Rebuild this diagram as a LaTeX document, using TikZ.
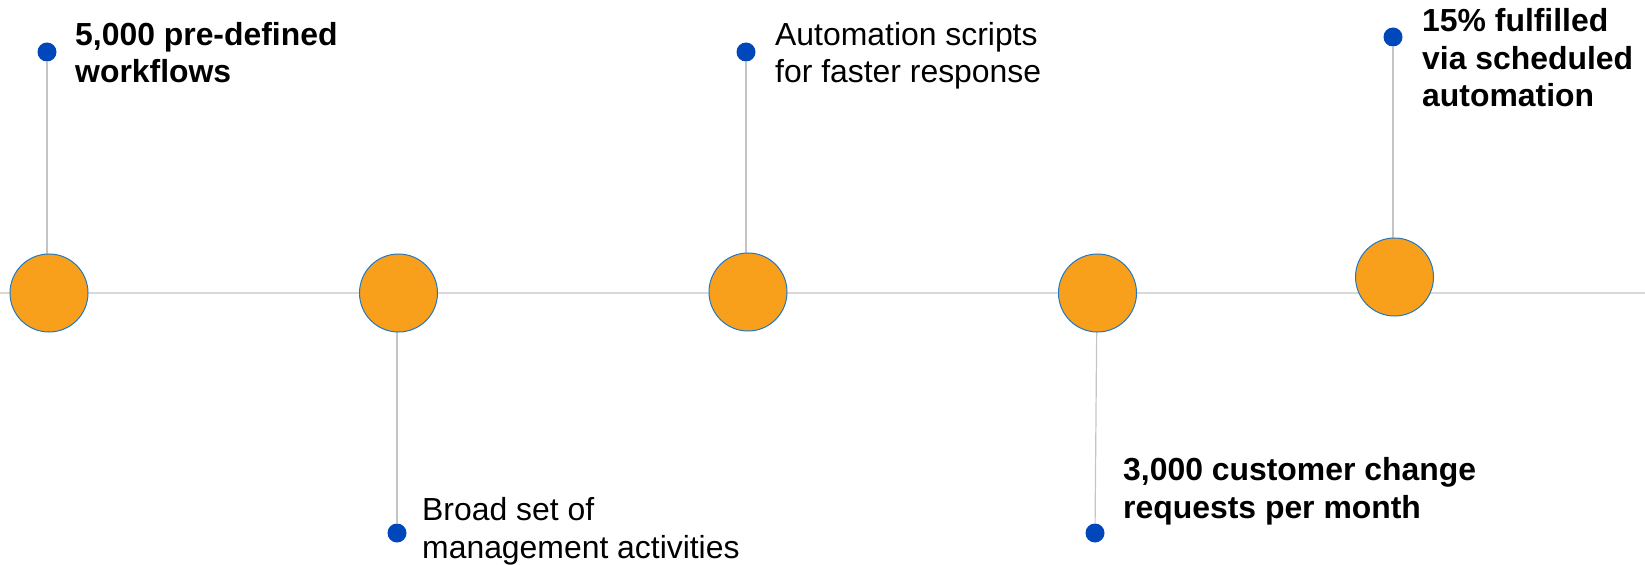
\documentclass[tikz,border=0pt]{standalone}
\usepackage{fontspec}
\setmainfont{Liberation Sans}
\usetikzlibrary{positioning}
\definecolor{milestoneorange}{RGB}{248,160,28}
\definecolor{milestoneedge}{RGB}{30,120,200}
\definecolor{pinblue}{RGB}{0,71,187}
\definecolor{axisgray}{RGB}{217,217,217}
\definecolor{stemgray}{RGB}{196,196,196}

\begin{document}
\begin{tikzpicture}[
    x=1bp, y=-1bp,
    milestone/.style={circle, fill=milestoneorange, draw=milestoneedge,
                      line width=1bp, minimum size=78bp, inner sep=0pt},
    pin/.style={circle, fill=pinblue, minimum size=19bp, inner sep=0pt},
    stem/.style={draw=stemgray, line width=1.2bp},
    axis/.style={draw=axisgray, line width=2bp},
    note/.style={anchor=base west, align=left, inner sep=0pt,
                 font=\fontsize{31.9bp}{37.5bp}\selectfont},
    keynote/.style={note, font=\fontsize{31.9bp}{37.5bp}\selectfont\bfseries},
]
\useasboundingbox (0,0) rectangle (1645,565);

% ── Timeline axis ──────────────────────────────────────────────────────
\coordinate (axisL) at (0,293);
\coordinate (axisR) at (1645,293);
\draw[axis] (axisL) -- (axisR);

% ── Pins ───────────────────────────────────────────────────────────────
\node[pin] (pin1) at (47,52)   {};
\node[pin] (pin2) at (397,533) {};
\node[pin] (pin3) at (746,52)  {};
\node[pin] (pin4) at (1095,533){};
\node[pin] (pin5) at (1393,37) {};

% ── Stems (drawn before the milestones so they sit behind) ─────────────
\coordinate (top1) at (47,293);
\coordinate (top2) at (397,293);
\coordinate (top3) at (746,293);
\coordinate (top4) at (1097,293);
\coordinate (top5) at (1393,277);
\foreach \i in {1,...,5}
  \draw[stem] (pin\i) -- (top\i);

% ── Milestones ─────────────────────────────────────────────────────────
\node[milestone] (ms1) at (49,293)    {};
\node[milestone] (ms2) at (398.5,293) {};
\node[milestone] (ms3) at (748,292)   {};
\node[milestone] (ms4) at (1097.5,293){};
\node[milestone] (ms5) at (1394.5,277){};

% ── Notes (anchored on the baseline of their last line) ────────────────
\node[keynote] (txt1) at (75,83)
      {5,000 pre-defined\\workflows};
\node[note]    (txt2) at (422,558)
      {Broad set of\\management activities};
\node[note]    (txt3) at (775,83)
      {Automation scripts\\for faster response};
\node[keynote] (txt4) at (1123,518)
      {3,000 customer change\\requests per month};
\node[keynote] (txt5) at (1422,107)
      {15\% fulfilled\\via scheduled\\automation};

\end{tikzpicture}
\end{document}
